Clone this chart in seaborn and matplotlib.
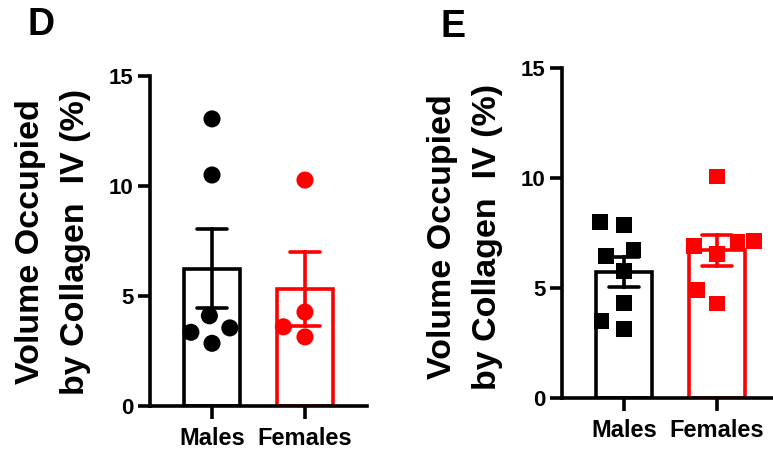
import matplotlib
matplotlib.use("Agg")
import matplotlib.pyplot as plt
import seaborn as sns
import pandas as pd

# ---- data ----
categories = ["Males", "Females"]
colors = ["#000000", "#FF0000"]

d_males = [13.05, 10.5, 4.1, 3.55, 3.35, 2.85]
d_females = [10.27, 4.27, 3.6, 3.14]

e_males = [8.0, 7.86, 6.73, 6.45, 5.77, 4.32, 3.5, 3.14]
e_females = [10.07, 7.15, 7.1, 6.9, 6.55, 4.9, 4.3]

y_ticks = [0, 5, 10, 15]
y_label = "Volume Occupied\nby Collagen  IV (%)"
panel_labels = ["D", "E"]

sns.set_theme(style="white")
plt.rcParams["font.family"] = ["Liberation Sans", "DejaVu Sans"]
plt.rcParams["font.weight"] = "bold"
plt.rcParams["text.color"] = "black"
plt.rcParams["xtick.color"] = "black"
plt.rcParams["ytick.color"] = "black"

W, H = 773, 453
fig = plt.figure(figsize=(W / 100, H / 100), dpi=100)


def px_axes(left, bottom_px, right, top_px):
    return fig.add_axes([left / W, (H - bottom_px) / H, (right - left) / W, (bottom_px - top_px) / H])


swarm_sets = []


def draw_panel(ax, males, females, marker, msize, layout_size):
    df = pd.DataFrame({
        "sex": ["Males"] * len(males) + ["Females"] * len(females),
        "val": list(males) + list(females),
    })
    for cat, col in zip(categories, colors):
        sub = df[df["sex"] == cat]
        sns.barplot(data=sub, x="sex", y="val", order=categories, color=col,
                    fill=False, linewidth=2.6, width=0.6,
                    errorbar=("se", 1), capsize=0.33,
                    err_kws={"color": col, "linewidth": 2.6}, ax=ax)
    n0 = len(ax.collections)
    sns.swarmplot(data=df, x="sex", y="val", hue="sex", order=categories,
                  hue_order=categories, palette=colors, marker=marker,
                  size=layout_size, linewidth=0, legend=False, zorder=3, ax=ax)
    swarm_sets.append((ax.collections[n0:], msize))
    ax.set_ylim(0, 15)
    ax.set_xlim(-0.667, 1.667)
    ax.set_yticks(y_ticks)
    ax.set_yticklabels([str(t) for t in y_ticks], fontsize=16, fontweight="bold", color="black")
    ax.set_xticks([0, 1])
    ax.set_xticklabels(categories, fontsize=17, fontweight="bold", color="black")
    ax.set_xlabel("")
    ax.set_ylabel("")
    for s in ["top", "right"]:
        ax.spines[s].set_visible(False)
    for s in ["left", "bottom"]:
        ax.spines[s].set_linewidth(2.6)
        ax.spines[s].set_color("black")
    ax.tick_params(axis="both", direction="out", length=9, width=2.6, color="black",
                   left=True, bottom=True)
    ax.tick_params(axis="y", pad=3)
    ax.tick_params(axis="x", pad=6)
    ax.set_facecolor("none")


axD = px_axes(150, 406, 367, 76)
draw_panel(axD, d_males, d_females, "o", 12.3, 16.5)
axE = px_axes(562, 398, 779, 68)
draw_panel(axE, e_males, e_females, "s", 11.3, 16.5)

# let seaborn lay out the swarms with a wider spacing, then freeze them and
# shrink the markers to their drawn size
fig.canvas.draw()
for colls, msize in swarm_sets:
    for c in colls:
        if "draw" in c.__dict__:
            del c.draw
        c.set_sizes([msize ** 2])

fig.text(53 / W, 1 - 242 / H, y_label, rotation=90, ha="center", va="center",
         fontsize=24.5, fontweight="bold", multialignment="center", linespacing=1.6,
         color="black")
fig.text(465 / W, 1 - 237 / H, y_label, rotation=90, ha="center", va="center",
         fontsize=24.5, fontweight="bold", multialignment="center", linespacing=1.6,
         color="black")

fig.text(41 / W, 1 - 25 / H, panel_labels[0], ha="center", va="center",
         fontsize=27, fontweight="bold", color="black")
fig.text(453 / W, 1 - 27 / H, panel_labels[1], ha="center", va="center",
         fontsize=27, fontweight="bold", color="black")

fig.savefig("out.png", dpi=100, facecolor="white")
